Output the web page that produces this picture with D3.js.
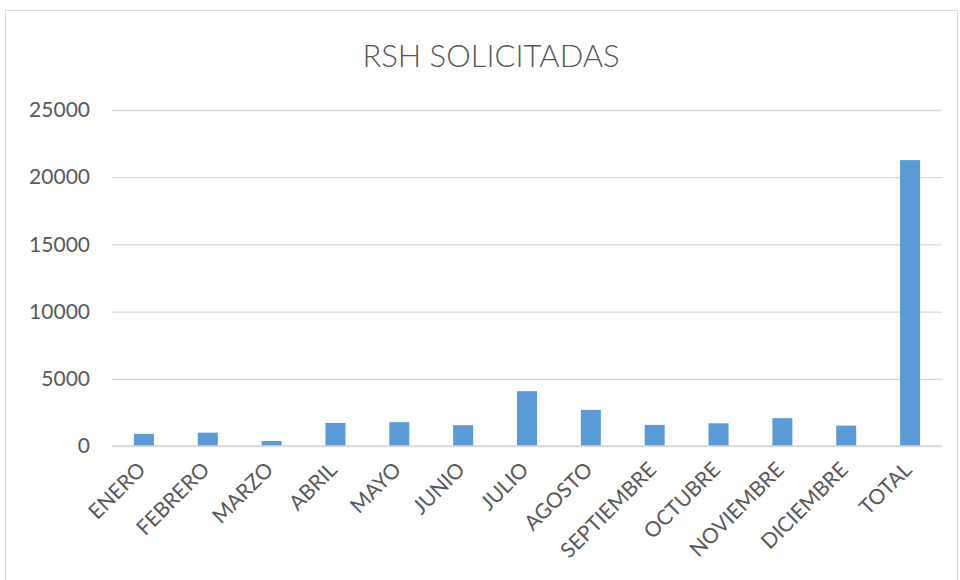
<!DOCTYPE html>
<html>
<head>
<meta charset="utf-8">
<script src="https://cdn.jsdelivr.net/npm/d3@7"></script>
<style>
  body { margin: 0; background: #fff; }
  #chart { width: 960px; height: 580px; }
  text { font-family: Lato, "Open Sans", sans-serif; fill: #595959; }
</style>
</head>
<body>
<div id="chart"></div>
<script>
const months = ["ENERO", "FEBRERO", "MARZO", "ABRIL", "MAYO", "JUNIO", "JULIO",
  "AGOSTO", "SEPTIEMBRE", "OCTUBRE", "NOVIEMBRE", "DICIEMBRE", "TOTAL"];
const values = [900, 990, 370, 1715, 1770, 1545, 4080, 2690, 1570, 1690, 2070, 1515, 21270];
const yTicks = [0, 5000, 10000, 15000, 20000, 25000];
const title = "RSH SOLICITADAS";

const width = 960;
const height = 580;
const plotLeft = 112, plotRight = 942, plotTop = 110, plotBottom = 446;

const svg = d3.select("#chart").append("svg")
  .attr("width", width)
  .attr("height", height);

// chart frame
svg.append("rect")
  .attr("x", 5.5)
  .attr("y", 10.5)
  .attr("width", 952)
  .attr("height", 575)
  .style("fill", "none")
  .style("stroke", "#d9d9d9");

svg.append("text")
  .attr("x", 491)
  .attr("y", 67)
  .style("text-anchor", "middle")
  .style("font-size", "31px")
  .style("font-weight", 300)
  .text(title);

const xScale = d3.scaleBand()
  .domain(months)
  .range([plotLeft, plotRight])
  .paddingInner(0.687)
  .paddingOuter(0.3435);

const yScale = d3.scaleLinear()
  .domain([0, 25000])
  .range([plotBottom, plotTop]);

// gridlines + y labels
const yAxis = d3.axisLeft(yScale)
  .tickValues(yTicks)
  .tickFormat(d3.format("d"))
  .tickSize(-(plotRight - plotLeft))
  .tickPadding(22);

svg.append("g")
  .attr("transform", "translate(" + plotLeft + ",0)")
  .call(yAxis)
  .call((g) => g.select(".domain").remove())
  .call((g) => g.selectAll(".tick line").style("stroke", "#d9d9d9").style("stroke-width", 1.3))
  .call((g) => g.selectAll(".tick text")
    .style("font-size", "21px")
    .style("font-family", "Lato, sans-serif")
    .attr("fill", "#595959"));

svg.selectAll(".bar")
  .data(values)
  .enter()
  .append("rect")
  .attr("class", "bar")
  .attr("x", (d, i) => xScale(months[i]))
  .attr("y", (d) => yScale(d))
  .attr("width", xScale.bandwidth())
  .attr("height", (d) => yScale(0) - yScale(d))
  .style("fill", "#5b9bd5");

// baseline
svg.append("line")
  .attr("x1", plotLeft)
  .attr("x2", plotRight)
  .attr("y1", plotBottom)
  .attr("y2", plotBottom)
  .style("stroke", "#d9d9d9")
  .style("stroke-width", 1.3);

// rotated month labels
svg.append("g")
  .selectAll("text")
  .data(months)
  .enter()
  .append("text")
  .attr("transform", (d) =>
    "translate(" + (xScale(d) + xScale.bandwidth() / 2 + 3) + "," + (plotBottom + 25) + ") rotate(-45)")
  .style("text-anchor", "end")
  .style("font-size", "21px")
  .text((d) => d);
</script>
</body>
</html>
